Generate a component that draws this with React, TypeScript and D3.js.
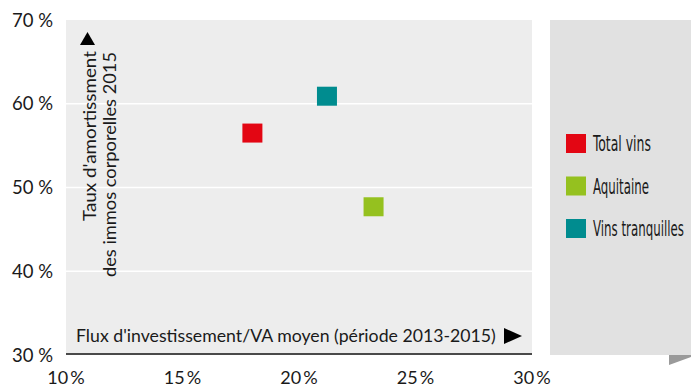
import React, { useLayoutEffect, useRef, useState } from "react";
import * as d3 from "d3";

const seriesNames = ["Total vins", "Aquitaine", "Vins tranquilles"];
const seriesColors = ["#e30613", "#95c11f", "#008c8f"];
const xValues = [18.0, 23.2, 21.2];
const yValues = [56.5, 47.7, 60.9];
const xTicks = [10, 15, 20, 25, 30];
const yTicks = [30, 40, 50, 60, 70];
const legendWidths = [58, 56, 91];

const W = 691;
const H = 388;
const plot = { left: 66, right: 532, top: 20, bottom: 355 };
const FONT = "Lato, 'Open Sans', sans-serif";

function FitText({ x, y, width, children, ...rest }: any) {
  const ref = useRef<SVGTextElement>(null);
  const [sx, setSx] = useState(1);
  useLayoutEffect(() => {
    if (ref.current) {
      const w = ref.current.getComputedTextLength();
      if (w > 0) setSx(width / w);
    }
  }, [width]);
  return (
    <g transform={`translate(${x},${y}) scale(${sx},1)`}>
      <text ref={ref} x={0} y={0} {...rest}>
        {children}
      </text>
    </g>
  );
}

export default function App() {
  const x = d3.scaleLinear().domain([10, 30]).range([plot.left, plot.right]);
  const y = d3.scaleLinear().domain([30, 70]).range([plot.bottom, plot.top]);
  const sq = 20;
  return (
    <svg width={W} height={H} style={{ position: "absolute", left: 0, top: 0 }}>
      <rect x={plot.left} y={plot.top} width={plot.right - plot.left} height={plot.bottom - plot.top} fill="#ededed" />
      {yTicks.slice(1, -1).map((t) => (
        <line key={t} x1={plot.left} x2={plot.right} y1={y(t)} y2={y(t)} stroke="#ffffff" strokeWidth={1.5} />
      ))}
      <line x1={plot.left} x2={plot.right} y1={plot.bottom - 1} y2={plot.bottom - 1} stroke="#4a4a4a" strokeWidth={2} />
      {yTicks.map((t) => (
        <text key={t} x={53} y={y(t)} dy="0.36em" textAnchor="end" fontFamily={FONT} fontSize={18.5} fill="#1a1a1a">
          {t} %
        </text>
      ))}
      {xTicks.map((t) => (
        <text key={t} x={x(t)} y={384} textAnchor="middle" fontFamily={FONT} fontSize={18} fill="#1a1a1a">
          {t + "\u2009%"}
        </text>
      ))}
      {/* x-axis title */}
      <FitText x={76} y={342} width={420} fontFamily={FONT} fontSize={17.5} fill="#1a1a1a">
        Flux d'investissement/VA moyen (période 2013-2015)
      </FitText>
      <path d="M504,328 L522,336 L504,344 Z" fill="#000" />
      {/* y-axis title */}
      <g transform="translate(96,51) rotate(-90)">
        <text x={0} y={0} textAnchor="end" fontFamily={FONT} fontSize={17.5} fill="#1a1a1a" textLength={170} lengthAdjust="spacingAndGlyphs">
          Taux d'amortissment
        </text>
      </g>
      <g transform="translate(116,52) rotate(-90)">
        <text x={0} y={0} textAnchor="end" fontFamily={FONT} fontSize={17.5} fill="#1a1a1a" textLength={225} lengthAdjust="spacingAndGlyphs">
          des immos corporelles 2015
        </text>
      </g>
      <path d="M80,45 L87.5,32 L95,45 Z" fill="#000" />
      {/* points */}
      {seriesNames.map((n, i) => (
        <rect key={n} x={x(xValues[i]) - sq / 2} y={y(yValues[i]) - 9.5} width={sq} height={19} fill={seriesColors[i]} />
      ))}
      {/* legend panel */}
      <rect x={550} y={20} width={W - 550} height={335} fill="#e1e1e1" />
      <path d="M669,355 L691,355 L691,357 L669,365 Z" fill="#9a9a9a" />
      {seriesNames.map((n, i) => (
        <g key={n} transform={`translate(566,${134 + i * 42.5})`}>
          <rect x={0} y={0} width={20} height={19} fill={seriesColors[i]} />
          <FitText x={27} y={17} width={legendWidths[i]} fontFamily="'DejaVu Sans Condensed', 'Liberation Sans Narrow', sans-serif" fontSize={21} fill="#1a1a1a">
            {n}
          </FitText>
        </g>
      ))}
    </svg>
  );
}
